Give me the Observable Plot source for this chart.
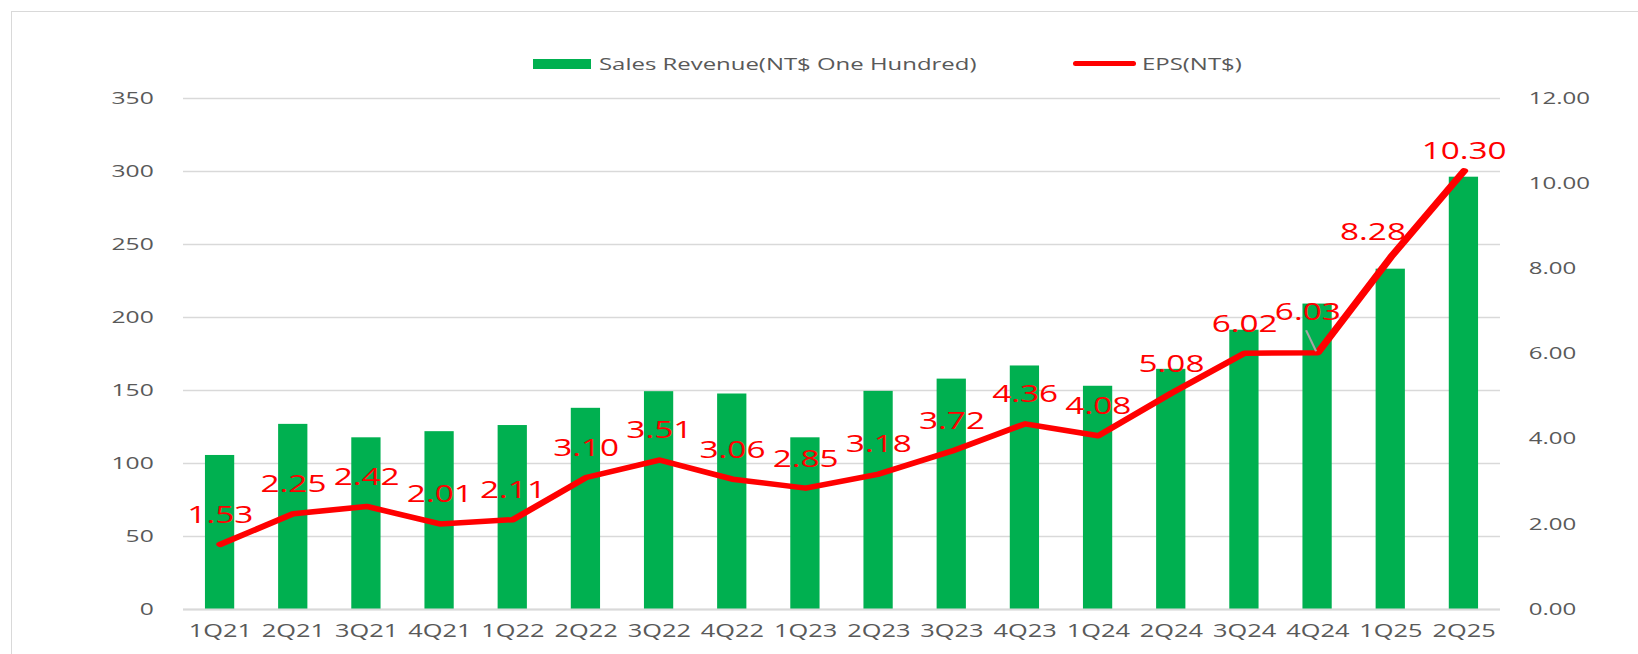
<!DOCTYPE html>
<html><head><meta charset="utf-8">
<script src="https://cdn.jsdelivr.net/npm/d3@7"></script>
<script src="https://cdn.jsdelivr.net/npm/@observablehq/plot@0.6"></script>
<style>
body{margin:0;background:#fff;font-family:"Open Sans",sans-serif;}
#wrap{position:relative;width:1638px;height:654px;overflow:hidden;background:#fff;}
#border{position:absolute;left:11px;top:11px;width:1700px;height:700px;border-top:1px solid #d9d9d9;border-left:1px solid #d9d9d9;z-index:3;pointer-events:none;}
#legend{position:absolute;left:0;top:0;width:1638px;height:80px;}
.lt{position:absolute;top:64px;transform:translateY(-50%) scaleX(1.45);transform-origin:left center;font-size:16.5px;color:#595959;white-space:nowrap;line-height:1;}
.sw{position:absolute;}
#chart{position:absolute;left:0;top:80px;}
</style></head><body>
<div id="wrap">
  <div id="border"></div>
  <div id="legend">
    <div class="sw" style="left:533px;top:59px;width:58px;height:10px;background:#00b050;"></div>
    <div class="lt" id="lg1" style="left:599px;"></div>
    <div class="sw" style="left:1073px;top:61px;width:63px;height:5px;background:#ff0000;border-radius:3px;"></div>
    <div class="lt" id="lg2" style="left:1142px;"></div>
  </div>
  <div id="chart"></div>
</div>
<script>
const quarters = ["1Q21","2Q21","3Q21","4Q21","1Q22","2Q22","3Q22","4Q22","1Q23","2Q23","3Q23","4Q23","1Q24","2Q24","3Q24","4Q24","1Q25","2Q25"];
const revenue = [105.5, 126.8, 117.6, 121.8, 126, 137.8, 149.2, 147.6, 117.6, 149.4, 157.8, 166.8, 152.9, 164.5, 191.3, 209.2, 233.1, 296.1];
const eps = [1.53, 2.25, 2.42, 2.01, 2.11, 3.10, 3.51, 3.06, 2.85, 3.18, 3.72, 4.36, 4.08, 5.08, 6.02, 6.03, 8.28, 10.30];
const revenueTicks = [0, 50, 100, 150, 200, 250, 300, 350];
const epsTicks = [0, 2, 4, 6, 8, 10, 12];
const seriesNames = ["Sales Revenue(NT$ One Hundred)", "EPS(NT$)"];

document.getElementById("lg1").textContent = seriesNames[0];
document.getElementById("lg2").textContent = seriesNames[1];

const S = 1.45;            // horizontal stretch of the original picture
const W = 1638 / S, H = 574;
const K = 350 / 12;        // EPS -> revenue axis
const data = quarters.map((q, i) => ({q, rev: revenue[i], eps: eps[i], e: eps[i] * K}));
const special = ["4Q24", "1Q25", "2Q25"];
const gray = "#595959";

const plot = Plot.plot({
  width: W, height: H,
  marginLeft: 183 / S, marginRight: 138 / S, marginTop: 18, marginBottom: 45,
  style: {fontFamily: "'Open Sans', sans-serif", background: "transparent"},
  x: {type: "band", domain: quarters, paddingInner: 0.6, paddingOuter: 0.3, round: false, label: null},
  y: {domain: [0, 350], label: null},
  marks: [
    Plot.gridY(revenueTicks, {stroke: "#d9d9d9", strokeOpacity: 1, strokeWidth: 1.5}),
    Plot.barY(data, {x: "q", y: "rev", fill: "#00b050"}),
    Plot.ruleY([0], {stroke: "#d9d9d9", strokeWidth: 2}),
    Plot.line(data, {x: "q", y: "e", stroke: "#ff0000", strokeWidth: 5.5, strokeLinecap: "round", strokeLinejoin: "round"}),
    (index, scales) => {
      const bw = scales.x.bandwidth ? scales.x.bandwidth() : 0;
      const i = quarters.indexOf("4Q24");
      const x = scales.x(quarters[i]) + bw / 2;
      const y = scales.y(eps[i] * K);
      return d3.create("svg:line")
        .attr("x1", x - 1 / S).attr("y1", y - 1)
        .attr("x2", x - 11 / S).attr("y2", y - 22)
        .attr("stroke", "#a6a6a6").attr("stroke-width", 1.5).node();
    },
    Plot.text(data.filter(d => !special.includes(d.q)), {x: "q", y: "e", text: d => d.eps.toFixed(2), fill: "#ff0000", fontSize: 23, dy: -29}),
    Plot.text(data.filter(d => d.q === "4Q24"), {x: "q", y: "e", text: d => d.eps.toFixed(2), fill: "#ff0000", fontSize: 23, dy: -40.5, dx: -10 / S}),
    Plot.text(data.filter(d => d.q === "1Q25"), {x: "q", y: "e", text: d => d.eps.toFixed(2), fill: "#ff0000", fontSize: 23, dy: -24, dx: -18 / S}),
    Plot.text(data.filter(d => d.q === "2Q25"), {x: "q", y: "e", text: d => d.eps.toFixed(2), fill: "#ff0000", fontSize: 23, dy: -19}),
    Plot.axisY(revenueTicks, {anchor: "left", tickSize: 0, tickPadding: 30 / S, fontSize: 17, fill: gray}),
    Plot.axisY(epsTicks.map(v => v * K), {anchor: "right", tickSize: 0, tickPadding: 28 / S, fontSize: 16.6, fill: gray, tickFormat: v => (v / K).toFixed(2)}),
    Plot.axisX({anchor: "bottom", tickSize: 0, tickPadding: 15, fontSize: 17.5, fill: gray})
  ]
});
plot.setAttribute("width", 1638);
plot.setAttribute("height", H);
plot.setAttribute("preserveAspectRatio", "none");
plot.style.width = "1638px";
plot.style.height = H + "px";
plot.style.maxWidth = "none";
plot.style.background = "transparent";
document.getElementById("chart").appendChild(plot);
</script>
</body></html>
